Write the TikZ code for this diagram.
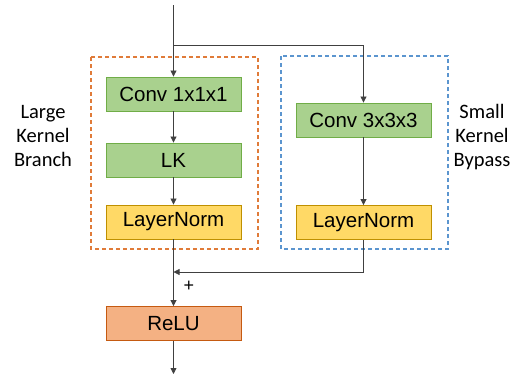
\documentclass[tikz,border=0pt]{standalone}
\usepackage{fontspec}
\setmainfont{Liberation Sans}
\newfontfamily\labelfont{Carlito}
\usetikzlibrary{arrows.meta}
\definecolor{gfill}{HTML}{A9D18E}
\definecolor{gdraw}{HTML}{70AD47}
\definecolor{yfill}{HTML}{FFD966}
\definecolor{ydraw}{HTML}{BF9000}
\definecolor{ofill}{HTML}{F4B183}
\definecolor{odraw}{HTML}{C55A11}
\definecolor{odash}{HTML}{E07B39}
\definecolor{bdash}{HTML}{5B95CF}
\definecolor{linec}{HTML}{404040}
\tikzset{
  blk/.style={minimum width=135pt, minimum height=34pt, inner sep=0pt, line width=0.9pt, font=\fontsize{20.5}{24}\selectfont},
  green/.style={blk, fill=gfill, draw=gdraw},
  yellow/.style={blk, fill=yfill, draw=ydraw},
  orange/.style={blk, fill=ofill, draw=odraw},
  conn/.style={draw=linec, line width=0.8pt, -{Triangle[length=6pt,width=6pt]}},
  side/.style={align=center, font=\labelfont\fontsize{20.5}{24}\selectfont},
}
\begin{document}
\begin{tikzpicture}[x=1pt,y=-1pt]
\useasboundingbox (0,0) rectangle (521,376);
% dashed group boxes
\draw[odash, line width=1.3pt, dash pattern=on 4pt off 3pt] (91,57) rectangle (258,249);
\draw[bdash, line width=1.3pt, dash pattern=on 4pt off 3pt] (281,56) rectangle (448,249);
% blocks
\node[green] (c1) at (173.5,94) {Conv 1x1x1};
\node[green] (lk) at (173.5,160) {LK};
\node[yellow] (ln1) at (173.5,222) {LayerNorm};
\node[green] (c3) at (363.5,120) {Conv 3x3x3};
\node[yellow] (ln2) at (363.5,222.5) {LayerNorm};
\node[orange] (relu) at (173.5,323.5) {ReLU};
% labels
\node[side] (lbl1) at (43,136) {Large\\Kernel\\Branch};
\node[side] (lbl2) at (482,137) {Small\\Kernel\\Bypass};
\node[font=\fontsize{18}{20}\selectfont] (plus) at (189,286) {+};
% coordinates
\coordinate (top) at (173.5,5);
\coordinate (split) at (173.5,45);
\coordinate (join) at (173.5,272);
\coordinate (bot) at (173.5,374);
% connectors
\draw[conn] (top) -- (c1.north);
\draw[conn] (split) -| (c3.north);
\draw[conn] (c1) -- (lk);
\draw[conn] (lk) -- (ln1);
\draw[conn] (c3) -- (ln2);
\draw[conn] (ln1) -- (relu);
\draw[conn] (ln2.south) |- (join);
\draw[conn] (relu) -- (bot);
\end{tikzpicture}
\end{document}
